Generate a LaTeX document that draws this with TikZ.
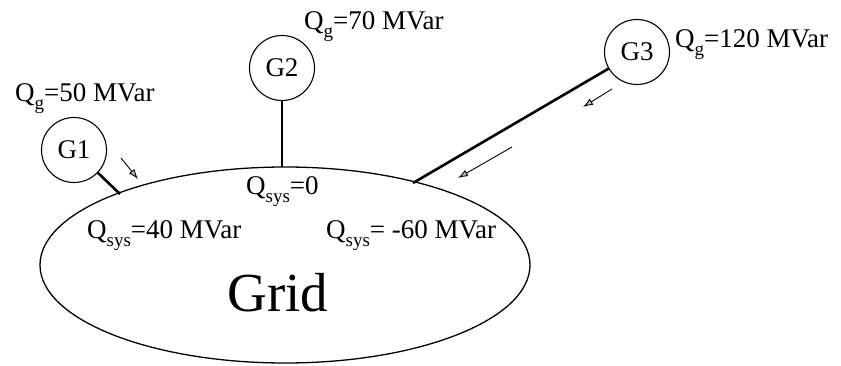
\documentclass[tikz,border=0pt]{standalone}
\usepackage{fontspec}
\setmainfont{Liberation Serif}
\usetikzlibrary{arrows.meta,shapes.geometric}
\newcommand\subq[1]{\raisebox{-0.28em}{\fontsize{19}{19}\selectfont #1}}
\begin{document}
\begin{tikzpicture}[x=1pt,y=-1pt,
  gen/.style={circle,draw,line width=1.1pt,minimum size=65pt,inner sep=0pt,font=\fontsize{27}{29}\selectfont},
  lbl/.style={anchor=base west,inner sep=0pt,font=\fontsize{27}{29}\selectfont},
  feeder/.style={line width=2.6pt},
  flow/.style={line width=0.9pt,-{Latex[length=10pt,width=7pt,fill=gray!50]}}]
\useasboundingbox (0,0) rectangle (841,366);
% grid
\node[ellipse,draw,line width=1.3pt,minimum width=490pt,minimum height=196pt,inner sep=0pt] (grid) at (285,265) {};
\node[anchor=base,inner sep=0pt,font=\fontsize{55}{57}\selectfont] (gtxt) at (278,312) {Grid};
% generators
\node[gen] (g1) at (74,150) {G1};
\node[gen] (g2) at (282,68) {G2};
\node[gen] (g3) at (637,52) {G3};
% connection points on grid
\coordinate (c1) at (120,194);
\coordinate (c2) at (282,167);
\coordinate (c3) at (413,183);
\draw[feeder] (g1) -- (c1);
\draw[line width=1.9pt] (g2) -- (c2);
\draw[feeder] (g3) -- (c3);
% flow arrows
\coordinate (a1s) at (121,158); \coordinate (a1e) at (138,179);
\coordinate (a2s) at (612,89);  \coordinate (a2e) at (583,107);
\coordinate (a3s) at (512,147); \coordinate (a3e) at (458,178);
\draw[flow] (a1s) -- (a1e);
\draw[flow] (a2s) -- (a2e);
\draw[flow] (a3s) -- (a3e);
% labels
\node[lbl] (q1) at (15,102) {Q\subq{g}=50 MVar};
\node[lbl] (q2) at (304,30) {Q\subq{g}=70 MVar};
\node[lbl] (q3) at (675,48) {Q\subq{g}=120 MVar};
\node[lbl] (s2) at (246,195) {Q\subq{sys}=0};
\node[lbl] (s1) at (87,239) {Q\subq{sys}=40 MVar};
\node[lbl] (s3) at (326,239) {Q\subq{sys}= -60 MVar};
\end{tikzpicture}
\end{document}
